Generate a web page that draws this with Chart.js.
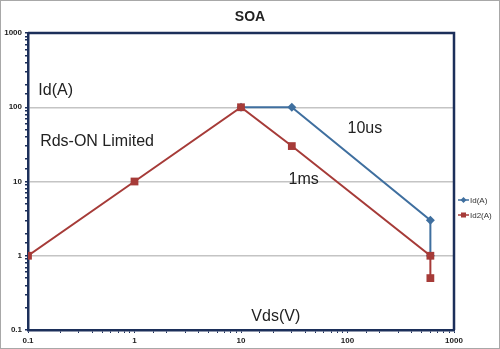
<!DOCTYPE html>
<html>
<head>
<meta charset="utf-8">
<script src="https://cdn.jsdelivr.net/npm/chart.js@4/dist/chart.umd.min.js"></script>
<style>
	html, body { margin: 0; padding: 0; background: #fff; }
	#frame { width: 500px; height: 349px; box-sizing: border-box; border: 1px solid #a8a8a8; }
	#soaChart { display: block; }
</style>
</head>
<body>
<div id="frame"><canvas id="soaChart" width="498" height="347"></canvas></div>
<script>
const SERIES_LABELS = ['Id(A)', 'Id2(A)'];
const ID_VDS = [10, 30, 600, 600];
const ID_AMPS = [100, 100, 3, 1];
const ID2_VDS = [0.1, 1, 10, 30, 600, 600];
const ID2_AMPS = [1, 10, 100, 30, 1, 0.5];
const AXIS_MIN = 0.1;
const AXIS_MAX = 1000;

// free text placed in data coordinates
const NOTES = [
	{ text: 'Id(A)', x: 0.125, y: 170 },
	{ text: 'Rds-ON Limited', x: 0.13, y: 35 },
	{ text: '10us', x: 100, y: 52 },
	{ text: '1ms', x: 28, y: 10.5 },
	{ text: 'Vds(V)', x: 12.5, y: 0.15 },
];

const NAVY = '#1c2f5a';
const BLUE = '#3f6f9f';
const RED = '#a63b38';
const FONT = '"Liberation Sans", Arial, sans-serif';

function isDecade(value) {
	const l = Math.log10(value);
	return Math.abs(l - Math.round(l)) < 1e-9;
}

function toPoints(xs, ys) {
	return xs.map((x, i) => ({ x, y: ys[i] }));
}

const overlayPlugin = {
	id: 'overlay',
	afterDraw(chart) {
		const { ctx, chartArea, scales } = chart;
		ctx.save();

		// top and right frame of the plot
		ctx.strokeStyle = NAVY;
		ctx.lineWidth = 2.5;
		ctx.beginPath();
		ctx.moveTo(chartArea.left, chartArea.top);
		ctx.lineTo(chartArea.right, chartArea.top);
		ctx.lineTo(chartArea.right, chartArea.bottom);
		ctx.stroke();

		ctx.fillStyle = '#222';
		ctx.font = 'bold 14px ' + FONT;
		ctx.textAlign = 'center';
		ctx.textBaseline = 'middle';
		ctx.fillText('SOA', 249, 16);

		ctx.font = '16px ' + FONT;
		ctx.textAlign = 'left';
		NOTES.forEach((note) => {
			ctx.fillText(note.text, scales.x.getPixelForValue(note.x), scales.y.getPixelForValue(note.y));
		});

		// legend on the right
		const styles = [
			{ color: BLUE, shape: 'diamond' },
			{ color: RED, shape: 'square' },
		];
		ctx.font = '8px ' + FONT;
		SERIES_LABELS.forEach((label, i) => {
			const y = 199 + i * 15;
			const x0 = chartArea.right + 4;
			ctx.strokeStyle = styles[i].color;
			ctx.fillStyle = styles[i].color;
			ctx.lineWidth = 1.5;
			ctx.beginPath();
			ctx.moveTo(x0, y);
			ctx.lineTo(x0 + 11, y);
			ctx.stroke();
			ctx.beginPath();
			if (styles[i].shape === 'diamond') {
				ctx.moveTo(x0 + 5.5, y - 3);
				ctx.lineTo(x0 + 8.5, y);
				ctx.lineTo(x0 + 5.5, y + 3);
				ctx.lineTo(x0 + 2.5, y);
				ctx.closePath();
			} else {
				ctx.rect(x0 + 3, y - 2.5, 5, 5);
			}
			ctx.fill();
			ctx.fillStyle = '#333';
			ctx.fillText(label, x0 + 12, y + 0.5);
		});

		ctx.restore();
	},
};

const tickFont = { family: FONT, size: 8, weight: 'bold' };

new Chart(document.getElementById('soaChart').getContext('2d'), {
	type: 'line',
	data: {
		datasets: [
			{
				label: SERIES_LABELS[0],
				data: toPoints(ID_VDS, ID_AMPS),
				borderColor: BLUE,
				backgroundColor: BLUE,
				borderWidth: 2,
				pointStyle: 'rectRot',
				pointRadius: 4.5,
				pointBorderWidth: 0,
				order: 1,
			},
			{
				label: SERIES_LABELS[1],
				data: toPoints(ID2_VDS, ID2_AMPS),
				borderColor: RED,
				backgroundColor: RED,
				borderWidth: 2,
				pointStyle: 'rect',
				pointRadius: 5.5,
				pointBorderWidth: 0,
				order: 0,
			},
		],
	},
	options: {
		responsive: false,
		animation: false,
		layout: { padding: { top: 32, right: 45, left: 0, bottom: 0 } },
		scales: {
			x: {
				type: 'logarithmic',
				min: AXIS_MIN,
				max: AXIS_MAX,
				afterFit(scale) { scale.height = 18; },
				border: { color: NAVY, width: 2.5 },
				grid: { color: 'transparent', tickColor: NAVY, tickLength: 3, drawTicks: true },
				ticks: {
					autoSkip: false,
					maxRotation: 0,
					padding: 3,
					color: '#222',
					font: tickFont,
					callback(value) { return isDecade(value) ? String(value) : ''; },
				},
			},
			y: {
				type: 'logarithmic',
				min: AXIS_MIN,
				max: AXIS_MAX,
				afterFit(scale) { scale.width = 27; },
				border: { color: NAVY, width: 2.5 },
				grid: {
					color(ctx) { return ctx.tick && isDecade(ctx.tick.value) ? '#c4c4c4' : 'transparent'; },
					lineWidth: 1.5,
					tickColor: NAVY,
					tickLength: 3,
				},
				ticks: {
					autoSkip: false,
					padding: 3,
					color: '#222',
					font: tickFont,
					callback(value) { return isDecade(value) ? String(value) : ''; },
				},
			},
		},
		plugins: {
			legend: { display: false },
			tooltip: { enabled: false },
		},
	},
	plugins: [overlayPlugin],
});
</script>
</body>
</html>
